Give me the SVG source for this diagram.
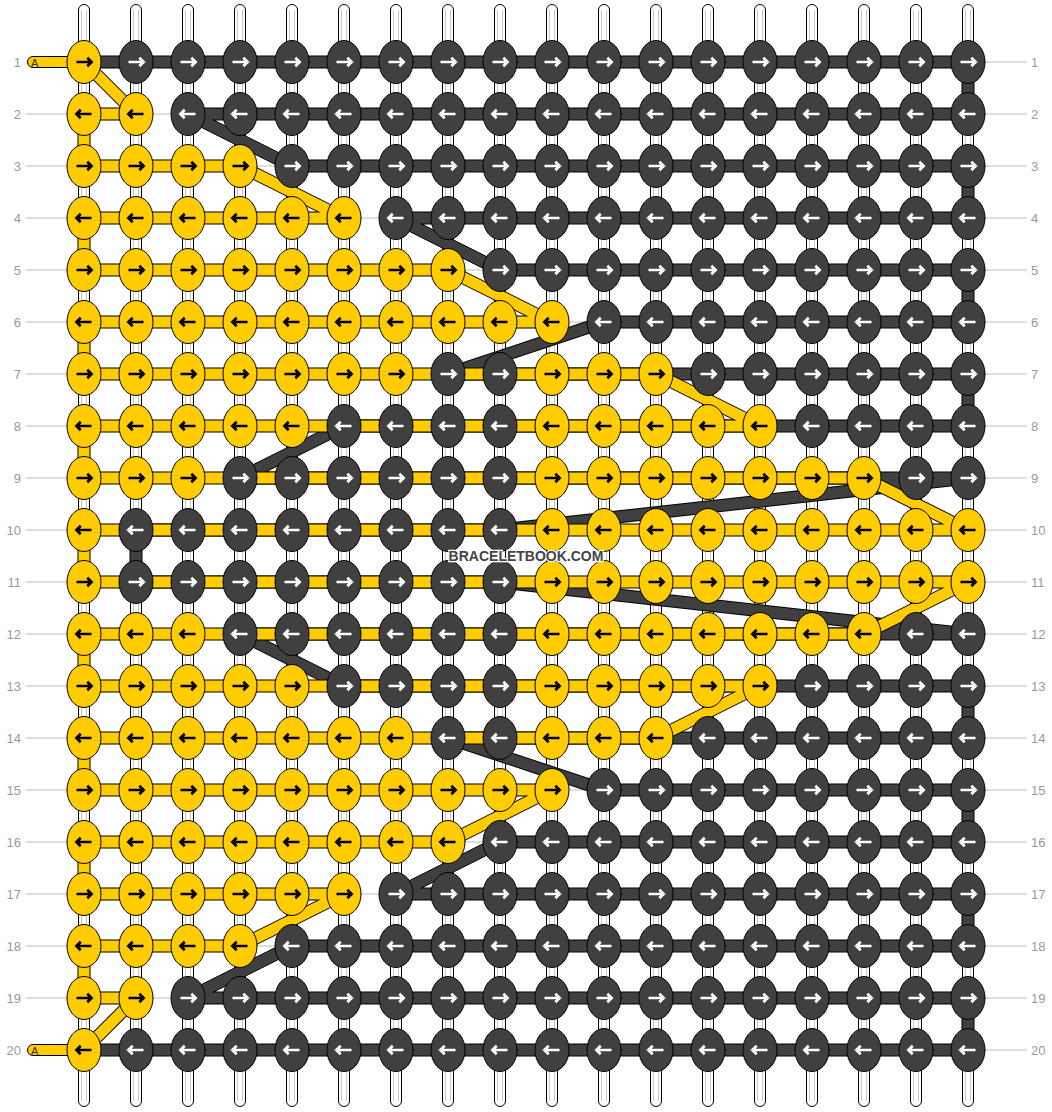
<svg xmlns="http://www.w3.org/2000/svg" xmlns:xlink="http://www.w3.org/1999/xlink" width="1052" height="1112" viewBox="0 0 1052 1112">
<style>
.str{fill:#fff;stroke:#000;stroke-width:1}
.sl{stroke:#c8c8c8;stroke-width:1}
.gl{stroke:#bdbdbd;stroke-width:1}
.lab{font-family:"Liberation Sans",Arial,sans-serif;font-size:13px;fill:#999}
.lab.l{text-anchor:end}
.ol{fill:none;stroke:#000;stroke-width:13;stroke-linejoin:round}
.td{fill:none;stroke:#404040;stroke-width:11;stroke-linejoin:round}
.ty{fill:none;stroke:#ffcc00;stroke-width:11;stroke-linejoin:round}
.ky{fill:#ffcc00;stroke:#000;stroke-width:1}
.kd{fill:#404040;stroke:#000;stroke-width:1}
.arr{fill:none;stroke-width:2.7;stroke-linejoin:miter}
.tag{fill:#ffcc00;stroke:#000;stroke-width:1}
.tagt{font-family:"Liberation Sans",Arial,sans-serif;font-size:11px;fill:#333}
.wm{font-family:"Liberation Sans",Arial,sans-serif;font-size:14px;font-weight:bold;fill:#444;stroke:#fff;stroke-width:2.5;paint-order:stroke;text-anchor:middle}
</style>
<defs>
<path id="pr" class="arr" d="M-7.5,0 H7.5 M3.3,-4.3 L7.6,0 L3.3,4.3"/>
<path id="pl" class="arr" d="M7.5,0 H-7.5 M-3.3,-4.3 L-7.6,0 L-3.3,4.3"/>
<g id="yr"><ellipse class="ky" rx="17" ry="21.5"/><use href="#pr" stroke="#000"/></g>
<g id="yl"><ellipse class="ky" rx="17" ry="21.5"/><use href="#pl" stroke="#000"/></g>
<g id="dr"><ellipse class="kd" rx="17" ry="21.5"/><use href="#pr" stroke="#fff"/></g>
<g id="dl"><ellipse class="kd" rx="17" ry="21.5"/><use href="#pl" stroke="#fff"/></g>
<g id="s"><rect class="str" x="-5.5" y="4.5" width="11" height="1102" rx="5.5"/><line class="sl" x1="-2.5" y1="10" x2="-2.5" y2="1101"/><line class="sl" x1="2.5" y1="10" x2="2.5" y2="1101"/></g>
</defs>
<rect width="1052" height="1112" fill="#fff"/>
<g id="guides">
<line class="gl" x1="26" y1="62" x2="1027" y2="62"/><line class="gl" x1="26" y1="114" x2="1027" y2="114"/><line class="gl" x1="26" y1="166" x2="1027" y2="166"/><line class="gl" x1="26" y1="218" x2="1027" y2="218"/><line class="gl" x1="26" y1="270" x2="1027" y2="270"/><line class="gl" x1="26" y1="322" x2="1027" y2="322"/><line class="gl" x1="26" y1="374" x2="1027" y2="374"/><line class="gl" x1="26" y1="426" x2="1027" y2="426"/><line class="gl" x1="26" y1="478" x2="1027" y2="478"/><line class="gl" x1="26" y1="530" x2="1027" y2="530"/><line class="gl" x1="26" y1="582" x2="1027" y2="582"/><line class="gl" x1="26" y1="634" x2="1027" y2="634"/><line class="gl" x1="26" y1="686" x2="1027" y2="686"/><line class="gl" x1="26" y1="738" x2="1027" y2="738"/><line class="gl" x1="26" y1="790" x2="1027" y2="790"/><line class="gl" x1="26" y1="842" x2="1027" y2="842"/><line class="gl" x1="26" y1="894" x2="1027" y2="894"/><line class="gl" x1="26" y1="946" x2="1027" y2="946"/><line class="gl" x1="26" y1="998" x2="1027" y2="998"/><line class="gl" x1="26" y1="1050" x2="1027" y2="1050"/>
</g>
<g id="labels">
<text class="lab l" x="21" y="66.5">1</text><text class="lab l" x="21" y="118.5">2</text><text class="lab l" x="21" y="170.5">3</text><text class="lab l" x="21" y="222.5">4</text><text class="lab l" x="21" y="274.5">5</text><text class="lab l" x="21" y="326.5">6</text><text class="lab l" x="21" y="378.5">7</text><text class="lab l" x="21" y="430.5">8</text><text class="lab l" x="21" y="482.5">9</text><text class="lab l" x="21" y="534.5">10</text><text class="lab l" x="21" y="586.5">11</text><text class="lab l" x="21" y="638.5">12</text><text class="lab l" x="21" y="690.5">13</text><text class="lab l" x="21" y="742.5">14</text><text class="lab l" x="21" y="794.5">15</text><text class="lab l" x="21" y="846.5">16</text><text class="lab l" x="21" y="898.5">17</text><text class="lab l" x="21" y="950.5">18</text><text class="lab l" x="21" y="1002.5">19</text><text class="lab l" x="21" y="1054.5">20</text>
<text class="lab" x="1031" y="66.5">1</text><text class="lab" x="1031" y="118.5">2</text><text class="lab" x="1031" y="170.5">3</text><text class="lab" x="1031" y="222.5">4</text><text class="lab" x="1031" y="274.5">5</text><text class="lab" x="1031" y="326.5">6</text><text class="lab" x="1031" y="378.5">7</text><text class="lab" x="1031" y="430.5">8</text><text class="lab" x="1031" y="482.5">9</text><text class="lab" x="1031" y="534.5">10</text><text class="lab" x="1031" y="586.5">11</text><text class="lab" x="1031" y="638.5">12</text><text class="lab" x="1031" y="690.5">13</text><text class="lab" x="1031" y="742.5">14</text><text class="lab" x="1031" y="794.5">15</text><text class="lab" x="1031" y="846.5">16</text><text class="lab" x="1031" y="898.5">17</text><text class="lab" x="1031" y="950.5">18</text><text class="lab" x="1031" y="1002.5">19</text><text class="lab" x="1031" y="1054.5">20</text>
</g>
<g id="strings">
<use href="#s" x="84"/><use href="#s" x="136"/><use href="#s" x="188"/><use href="#s" x="240"/><use href="#s" x="292"/><use href="#s" x="344"/><use href="#s" x="396"/><use href="#s" x="448"/><use href="#s" x="500"/><use href="#s" x="552"/><use href="#s" x="604"/><use href="#s" x="656"/><use href="#s" x="708"/><use href="#s" x="760"/><use href="#s" x="812"/><use href="#s" x="864"/><use href="#s" x="916"/><use href="#s" x="968"/>
</g>
<g id="connectors">
<polyline id="dark-o" class="ol" points="84,62 968,62 968,114 188,114 292,166 968,166 968,218 396,218 500,270 968,270 968,322 604,322 448,374 968,374 968,426 344,426 240,478 968,478 500,530 136,530 136,582 500,582 968,634 240,634 344,686 968,686 968,738 448,738 604,790 968,790 968,842 500,842 396,894 968,894 968,946 292,946 188,998 968,998 968,1050 84,1050"/>
<polyline id="dark" class="td" points="84,62 968,62 968,114 188,114 292,166 968,166 968,218 396,218 500,270 968,270 968,322 604,322 448,374 968,374 968,426 344,426 240,478 968,478 500,530 136,530 136,582 500,582 968,634 240,634 344,686 968,686 968,738 448,738 604,790 968,790 968,842 500,842 396,894 968,894 968,946 292,946 188,998 968,998 968,1050 84,1050"/>
<polyline id="yellow-o" class="ol" points="84,62 136,114 84,114 84,166 240,166 344,218 84,218 84,270 448,270 552,322 84,322 84,374 656,374 760,426 84,426 84,478 864,478 968,530 84,530 84,582 968,582 864,634 84,634 84,686 760,686 656,738 84,738 84,790 552,790 448,842 84,842 84,894 344,894 240,946 84,946 84,998 136,998 84,1050"/>
<polyline id="yellow" class="ty" points="84,62 136,114 84,114 84,166 240,166 344,218 84,218 84,270 448,270 552,322 84,322 84,374 656,374 760,426 84,426 84,478 864,478 968,530 84,530 84,582 968,582 864,634 84,634 84,686 760,686 656,738 84,738 84,790 552,790 448,842 84,842 84,894 344,894 240,946 84,946 84,998 136,998 84,1050"/>
<g id="tagA1"><rect class="tag" x="27.5" y="56.5" width="60" height="11" rx="5.5"/><text class="tagt" x="31" y="66.5">A</text></g>
<g id="tagA20"><rect class="tag" x="27.5" y="1044.5" width="60" height="11" rx="5.5"/><text class="tagt" x="31" y="1054.5">A</text></g>
</g>
<g id="nodes">
<g id="row1" transform="translate(0,62)">
<g id="k1-1"><use href="#yr" x="84"/></g><g id="k1-2"><use href="#dr" x="136"/></g><g id="k1-3"><use href="#dr" x="188"/></g><g id="k1-4"><use href="#dr" x="240"/></g><g id="k1-5"><use href="#dr" x="292"/></g><g id="k1-6"><use href="#dr" x="344"/></g><g id="k1-7"><use href="#dr" x="396"/></g><g id="k1-8"><use href="#dr" x="448"/></g><g id="k1-9"><use href="#dr" x="500"/></g><g id="k1-10"><use href="#dr" x="552"/></g><g id="k1-11"><use href="#dr" x="604"/></g><g id="k1-12"><use href="#dr" x="656"/></g><g id="k1-13"><use href="#dr" x="708"/></g><g id="k1-14"><use href="#dr" x="760"/></g><g id="k1-15"><use href="#dr" x="812"/></g><g id="k1-16"><use href="#dr" x="864"/></g><g id="k1-17"><use href="#dr" x="916"/></g><g id="k1-18"><use href="#dr" x="968"/></g>
</g>
<g id="row2" transform="translate(0,114)">
<g id="k2-1"><use href="#yl" x="84"/></g><g id="k2-2"><use href="#yl" x="136"/></g><g id="k2-3"><use href="#dl" x="188"/></g><g id="k2-4"><use href="#dl" x="240"/></g><g id="k2-5"><use href="#dl" x="292"/></g><g id="k2-6"><use href="#dl" x="344"/></g><g id="k2-7"><use href="#dl" x="396"/></g><g id="k2-8"><use href="#dl" x="448"/></g><g id="k2-9"><use href="#dl" x="500"/></g><g id="k2-10"><use href="#dl" x="552"/></g><g id="k2-11"><use href="#dl" x="604"/></g><g id="k2-12"><use href="#dl" x="656"/></g><g id="k2-13"><use href="#dl" x="708"/></g><g id="k2-14"><use href="#dl" x="760"/></g><g id="k2-15"><use href="#dl" x="812"/></g><g id="k2-16"><use href="#dl" x="864"/></g><g id="k2-17"><use href="#dl" x="916"/></g><g id="k2-18"><use href="#dl" x="968"/></g>
</g>
<g id="row3" transform="translate(0,166)">
<g id="k3-1"><use href="#yr" x="84"/></g><g id="k3-2"><use href="#yr" x="136"/></g><g id="k3-3"><use href="#yr" x="188"/></g><g id="k3-4"><use href="#yr" x="240"/></g><g id="k3-5"><use href="#dr" x="292"/></g><g id="k3-6"><use href="#dr" x="344"/></g><g id="k3-7"><use href="#dr" x="396"/></g><g id="k3-8"><use href="#dr" x="448"/></g><g id="k3-9"><use href="#dr" x="500"/></g><g id="k3-10"><use href="#dr" x="552"/></g><g id="k3-11"><use href="#dr" x="604"/></g><g id="k3-12"><use href="#dr" x="656"/></g><g id="k3-13"><use href="#dr" x="708"/></g><g id="k3-14"><use href="#dr" x="760"/></g><g id="k3-15"><use href="#dr" x="812"/></g><g id="k3-16"><use href="#dr" x="864"/></g><g id="k3-17"><use href="#dr" x="916"/></g><g id="k3-18"><use href="#dr" x="968"/></g>
</g>
<g id="row4" transform="translate(0,218)">
<g id="k4-1"><use href="#yl" x="84"/></g><g id="k4-2"><use href="#yl" x="136"/></g><g id="k4-3"><use href="#yl" x="188"/></g><g id="k4-4"><use href="#yl" x="240"/></g><g id="k4-5"><use href="#yl" x="292"/></g><g id="k4-6"><use href="#yl" x="344"/></g><g id="k4-7"><use href="#dl" x="396"/></g><g id="k4-8"><use href="#dl" x="448"/></g><g id="k4-9"><use href="#dl" x="500"/></g><g id="k4-10"><use href="#dl" x="552"/></g><g id="k4-11"><use href="#dl" x="604"/></g><g id="k4-12"><use href="#dl" x="656"/></g><g id="k4-13"><use href="#dl" x="708"/></g><g id="k4-14"><use href="#dl" x="760"/></g><g id="k4-15"><use href="#dl" x="812"/></g><g id="k4-16"><use href="#dl" x="864"/></g><g id="k4-17"><use href="#dl" x="916"/></g><g id="k4-18"><use href="#dl" x="968"/></g>
</g>
<g id="row5" transform="translate(0,270)">
<g id="k5-1"><use href="#yr" x="84"/></g><g id="k5-2"><use href="#yr" x="136"/></g><g id="k5-3"><use href="#yr" x="188"/></g><g id="k5-4"><use href="#yr" x="240"/></g><g id="k5-5"><use href="#yr" x="292"/></g><g id="k5-6"><use href="#yr" x="344"/></g><g id="k5-7"><use href="#yr" x="396"/></g><g id="k5-8"><use href="#yr" x="448"/></g><g id="k5-9"><use href="#dr" x="500"/></g><g id="k5-10"><use href="#dr" x="552"/></g><g id="k5-11"><use href="#dr" x="604"/></g><g id="k5-12"><use href="#dr" x="656"/></g><g id="k5-13"><use href="#dr" x="708"/></g><g id="k5-14"><use href="#dr" x="760"/></g><g id="k5-15"><use href="#dr" x="812"/></g><g id="k5-16"><use href="#dr" x="864"/></g><g id="k5-17"><use href="#dr" x="916"/></g><g id="k5-18"><use href="#dr" x="968"/></g>
</g>
<g id="row6" transform="translate(0,322)">
<g id="k6-1"><use href="#yl" x="84"/></g><g id="k6-2"><use href="#yl" x="136"/></g><g id="k6-3"><use href="#yl" x="188"/></g><g id="k6-4"><use href="#yl" x="240"/></g><g id="k6-5"><use href="#yl" x="292"/></g><g id="k6-6"><use href="#yl" x="344"/></g><g id="k6-7"><use href="#yl" x="396"/></g><g id="k6-8"><use href="#yl" x="448"/></g><g id="k6-9"><use href="#yl" x="500"/></g><g id="k6-10"><use href="#yl" x="552"/></g><g id="k6-11"><use href="#dl" x="604"/></g><g id="k6-12"><use href="#dl" x="656"/></g><g id="k6-13"><use href="#dl" x="708"/></g><g id="k6-14"><use href="#dl" x="760"/></g><g id="k6-15"><use href="#dl" x="812"/></g><g id="k6-16"><use href="#dl" x="864"/></g><g id="k6-17"><use href="#dl" x="916"/></g><g id="k6-18"><use href="#dl" x="968"/></g>
</g>
<g id="row7" transform="translate(0,374)">
<g id="k7-1"><use href="#yr" x="84"/></g><g id="k7-2"><use href="#yr" x="136"/></g><g id="k7-3"><use href="#yr" x="188"/></g><g id="k7-4"><use href="#yr" x="240"/></g><g id="k7-5"><use href="#yr" x="292"/></g><g id="k7-6"><use href="#yr" x="344"/></g><g id="k7-7"><use href="#yr" x="396"/></g><g id="k7-8"><use href="#dr" x="448"/></g><g id="k7-9"><use href="#dr" x="500"/></g><g id="k7-10"><use href="#yr" x="552"/></g><g id="k7-11"><use href="#yr" x="604"/></g><g id="k7-12"><use href="#yr" x="656"/></g><g id="k7-13"><use href="#dr" x="708"/></g><g id="k7-14"><use href="#dr" x="760"/></g><g id="k7-15"><use href="#dr" x="812"/></g><g id="k7-16"><use href="#dr" x="864"/></g><g id="k7-17"><use href="#dr" x="916"/></g><g id="k7-18"><use href="#dr" x="968"/></g>
</g>
<g id="row8" transform="translate(0,426)">
<g id="k8-1"><use href="#yl" x="84"/></g><g id="k8-2"><use href="#yl" x="136"/></g><g id="k8-3"><use href="#yl" x="188"/></g><g id="k8-4"><use href="#yl" x="240"/></g><g id="k8-5"><use href="#yl" x="292"/></g><g id="k8-6"><use href="#dl" x="344"/></g><g id="k8-7"><use href="#dl" x="396"/></g><g id="k8-8"><use href="#dl" x="448"/></g><g id="k8-9"><use href="#dl" x="500"/></g><g id="k8-10"><use href="#yl" x="552"/></g><g id="k8-11"><use href="#yl" x="604"/></g><g id="k8-12"><use href="#yl" x="656"/></g><g id="k8-13"><use href="#yl" x="708"/></g><g id="k8-14"><use href="#yl" x="760"/></g><g id="k8-15"><use href="#dl" x="812"/></g><g id="k8-16"><use href="#dl" x="864"/></g><g id="k8-17"><use href="#dl" x="916"/></g><g id="k8-18"><use href="#dl" x="968"/></g>
</g>
<g id="row9" transform="translate(0,478)">
<g id="k9-1"><use href="#yr" x="84"/></g><g id="k9-2"><use href="#yr" x="136"/></g><g id="k9-3"><use href="#yr" x="188"/></g><g id="k9-4"><use href="#dr" x="240"/></g><g id="k9-5"><use href="#dr" x="292"/></g><g id="k9-6"><use href="#dr" x="344"/></g><g id="k9-7"><use href="#dr" x="396"/></g><g id="k9-8"><use href="#dr" x="448"/></g><g id="k9-9"><use href="#dr" x="500"/></g><g id="k9-10"><use href="#yr" x="552"/></g><g id="k9-11"><use href="#yr" x="604"/></g><g id="k9-12"><use href="#yr" x="656"/></g><g id="k9-13"><use href="#yr" x="708"/></g><g id="k9-14"><use href="#yr" x="760"/></g><g id="k9-15"><use href="#yr" x="812"/></g><g id="k9-16"><use href="#yr" x="864"/></g><g id="k9-17"><use href="#dr" x="916"/></g><g id="k9-18"><use href="#dr" x="968"/></g>
</g>
<g id="row10" transform="translate(0,530)">
<g id="k10-1"><use href="#yl" x="84"/></g><g id="k10-2"><use href="#dl" x="136"/></g><g id="k10-3"><use href="#dl" x="188"/></g><g id="k10-4"><use href="#dl" x="240"/></g><g id="k10-5"><use href="#dl" x="292"/></g><g id="k10-6"><use href="#dl" x="344"/></g><g id="k10-7"><use href="#dl" x="396"/></g><g id="k10-8"><use href="#dl" x="448"/></g><g id="k10-9"><use href="#dl" x="500"/></g><g id="k10-10"><use href="#yl" x="552"/></g><g id="k10-11"><use href="#yl" x="604"/></g><g id="k10-12"><use href="#yl" x="656"/></g><g id="k10-13"><use href="#yl" x="708"/></g><g id="k10-14"><use href="#yl" x="760"/></g><g id="k10-15"><use href="#yl" x="812"/></g><g id="k10-16"><use href="#yl" x="864"/></g><g id="k10-17"><use href="#yl" x="916"/></g><g id="k10-18"><use href="#yl" x="968"/></g>
</g>
<g id="row11" transform="translate(0,582)">
<g id="k11-1"><use href="#yr" x="84"/></g><g id="k11-2"><use href="#dr" x="136"/></g><g id="k11-3"><use href="#dr" x="188"/></g><g id="k11-4"><use href="#dr" x="240"/></g><g id="k11-5"><use href="#dr" x="292"/></g><g id="k11-6"><use href="#dr" x="344"/></g><g id="k11-7"><use href="#dr" x="396"/></g><g id="k11-8"><use href="#dr" x="448"/></g><g id="k11-9"><use href="#dr" x="500"/></g><g id="k11-10"><use href="#yr" x="552"/></g><g id="k11-11"><use href="#yr" x="604"/></g><g id="k11-12"><use href="#yr" x="656"/></g><g id="k11-13"><use href="#yr" x="708"/></g><g id="k11-14"><use href="#yr" x="760"/></g><g id="k11-15"><use href="#yr" x="812"/></g><g id="k11-16"><use href="#yr" x="864"/></g><g id="k11-17"><use href="#yr" x="916"/></g><g id="k11-18"><use href="#yr" x="968"/></g>
</g>
<g id="row12" transform="translate(0,634)">
<g id="k12-1"><use href="#yl" x="84"/></g><g id="k12-2"><use href="#yl" x="136"/></g><g id="k12-3"><use href="#yl" x="188"/></g><g id="k12-4"><use href="#dl" x="240"/></g><g id="k12-5"><use href="#dl" x="292"/></g><g id="k12-6"><use href="#dl" x="344"/></g><g id="k12-7"><use href="#dl" x="396"/></g><g id="k12-8"><use href="#dl" x="448"/></g><g id="k12-9"><use href="#dl" x="500"/></g><g id="k12-10"><use href="#yl" x="552"/></g><g id="k12-11"><use href="#yl" x="604"/></g><g id="k12-12"><use href="#yl" x="656"/></g><g id="k12-13"><use href="#yl" x="708"/></g><g id="k12-14"><use href="#yl" x="760"/></g><g id="k12-15"><use href="#yl" x="812"/></g><g id="k12-16"><use href="#yl" x="864"/></g><g id="k12-17"><use href="#dl" x="916"/></g><g id="k12-18"><use href="#dl" x="968"/></g>
</g>
<g id="row13" transform="translate(0,686)">
<g id="k13-1"><use href="#yr" x="84"/></g><g id="k13-2"><use href="#yr" x="136"/></g><g id="k13-3"><use href="#yr" x="188"/></g><g id="k13-4"><use href="#yr" x="240"/></g><g id="k13-5"><use href="#yr" x="292"/></g><g id="k13-6"><use href="#dr" x="344"/></g><g id="k13-7"><use href="#dr" x="396"/></g><g id="k13-8"><use href="#dr" x="448"/></g><g id="k13-9"><use href="#dr" x="500"/></g><g id="k13-10"><use href="#yr" x="552"/></g><g id="k13-11"><use href="#yr" x="604"/></g><g id="k13-12"><use href="#yr" x="656"/></g><g id="k13-13"><use href="#yr" x="708"/></g><g id="k13-14"><use href="#yr" x="760"/></g><g id="k13-15"><use href="#dr" x="812"/></g><g id="k13-16"><use href="#dr" x="864"/></g><g id="k13-17"><use href="#dr" x="916"/></g><g id="k13-18"><use href="#dr" x="968"/></g>
</g>
<g id="row14" transform="translate(0,738)">
<g id="k14-1"><use href="#yl" x="84"/></g><g id="k14-2"><use href="#yl" x="136"/></g><g id="k14-3"><use href="#yl" x="188"/></g><g id="k14-4"><use href="#yl" x="240"/></g><g id="k14-5"><use href="#yl" x="292"/></g><g id="k14-6"><use href="#yl" x="344"/></g><g id="k14-7"><use href="#yl" x="396"/></g><g id="k14-8"><use href="#dl" x="448"/></g><g id="k14-9"><use href="#dl" x="500"/></g><g id="k14-10"><use href="#yl" x="552"/></g><g id="k14-11"><use href="#yl" x="604"/></g><g id="k14-12"><use href="#yl" x="656"/></g><g id="k14-13"><use href="#dl" x="708"/></g><g id="k14-14"><use href="#dl" x="760"/></g><g id="k14-15"><use href="#dl" x="812"/></g><g id="k14-16"><use href="#dl" x="864"/></g><g id="k14-17"><use href="#dl" x="916"/></g><g id="k14-18"><use href="#dl" x="968"/></g>
</g>
<g id="row15" transform="translate(0,790)">
<g id="k15-1"><use href="#yr" x="84"/></g><g id="k15-2"><use href="#yr" x="136"/></g><g id="k15-3"><use href="#yr" x="188"/></g><g id="k15-4"><use href="#yr" x="240"/></g><g id="k15-5"><use href="#yr" x="292"/></g><g id="k15-6"><use href="#yr" x="344"/></g><g id="k15-7"><use href="#yr" x="396"/></g><g id="k15-8"><use href="#yr" x="448"/></g><g id="k15-9"><use href="#yr" x="500"/></g><g id="k15-10"><use href="#yr" x="552"/></g><g id="k15-11"><use href="#dr" x="604"/></g><g id="k15-12"><use href="#dr" x="656"/></g><g id="k15-13"><use href="#dr" x="708"/></g><g id="k15-14"><use href="#dr" x="760"/></g><g id="k15-15"><use href="#dr" x="812"/></g><g id="k15-16"><use href="#dr" x="864"/></g><g id="k15-17"><use href="#dr" x="916"/></g><g id="k15-18"><use href="#dr" x="968"/></g>
</g>
<g id="row16" transform="translate(0,842)">
<g id="k16-1"><use href="#yl" x="84"/></g><g id="k16-2"><use href="#yl" x="136"/></g><g id="k16-3"><use href="#yl" x="188"/></g><g id="k16-4"><use href="#yl" x="240"/></g><g id="k16-5"><use href="#yl" x="292"/></g><g id="k16-6"><use href="#yl" x="344"/></g><g id="k16-7"><use href="#yl" x="396"/></g><g id="k16-8"><use href="#yl" x="448"/></g><g id="k16-9"><use href="#dl" x="500"/></g><g id="k16-10"><use href="#dl" x="552"/></g><g id="k16-11"><use href="#dl" x="604"/></g><g id="k16-12"><use href="#dl" x="656"/></g><g id="k16-13"><use href="#dl" x="708"/></g><g id="k16-14"><use href="#dl" x="760"/></g><g id="k16-15"><use href="#dl" x="812"/></g><g id="k16-16"><use href="#dl" x="864"/></g><g id="k16-17"><use href="#dl" x="916"/></g><g id="k16-18"><use href="#dl" x="968"/></g>
</g>
<g id="row17" transform="translate(0,894)">
<g id="k17-1"><use href="#yr" x="84"/></g><g id="k17-2"><use href="#yr" x="136"/></g><g id="k17-3"><use href="#yr" x="188"/></g><g id="k17-4"><use href="#yr" x="240"/></g><g id="k17-5"><use href="#yr" x="292"/></g><g id="k17-6"><use href="#yr" x="344"/></g><g id="k17-7"><use href="#dr" x="396"/></g><g id="k17-8"><use href="#dr" x="448"/></g><g id="k17-9"><use href="#dr" x="500"/></g><g id="k17-10"><use href="#dr" x="552"/></g><g id="k17-11"><use href="#dr" x="604"/></g><g id="k17-12"><use href="#dr" x="656"/></g><g id="k17-13"><use href="#dr" x="708"/></g><g id="k17-14"><use href="#dr" x="760"/></g><g id="k17-15"><use href="#dr" x="812"/></g><g id="k17-16"><use href="#dr" x="864"/></g><g id="k17-17"><use href="#dr" x="916"/></g><g id="k17-18"><use href="#dr" x="968"/></g>
</g>
<g id="row18" transform="translate(0,946)">
<g id="k18-1"><use href="#yl" x="84"/></g><g id="k18-2"><use href="#yl" x="136"/></g><g id="k18-3"><use href="#yl" x="188"/></g><g id="k18-4"><use href="#yl" x="240"/></g><g id="k18-5"><use href="#dl" x="292"/></g><g id="k18-6"><use href="#dl" x="344"/></g><g id="k18-7"><use href="#dl" x="396"/></g><g id="k18-8"><use href="#dl" x="448"/></g><g id="k18-9"><use href="#dl" x="500"/></g><g id="k18-10"><use href="#dl" x="552"/></g><g id="k18-11"><use href="#dl" x="604"/></g><g id="k18-12"><use href="#dl" x="656"/></g><g id="k18-13"><use href="#dl" x="708"/></g><g id="k18-14"><use href="#dl" x="760"/></g><g id="k18-15"><use href="#dl" x="812"/></g><g id="k18-16"><use href="#dl" x="864"/></g><g id="k18-17"><use href="#dl" x="916"/></g><g id="k18-18"><use href="#dl" x="968"/></g>
</g>
<g id="row19" transform="translate(0,998)">
<g id="k19-1"><use href="#yr" x="84"/></g><g id="k19-2"><use href="#yr" x="136"/></g><g id="k19-3"><use href="#dr" x="188"/></g><g id="k19-4"><use href="#dr" x="240"/></g><g id="k19-5"><use href="#dr" x="292"/></g><g id="k19-6"><use href="#dr" x="344"/></g><g id="k19-7"><use href="#dr" x="396"/></g><g id="k19-8"><use href="#dr" x="448"/></g><g id="k19-9"><use href="#dr" x="500"/></g><g id="k19-10"><use href="#dr" x="552"/></g><g id="k19-11"><use href="#dr" x="604"/></g><g id="k19-12"><use href="#dr" x="656"/></g><g id="k19-13"><use href="#dr" x="708"/></g><g id="k19-14"><use href="#dr" x="760"/></g><g id="k19-15"><use href="#dr" x="812"/></g><g id="k19-16"><use href="#dr" x="864"/></g><g id="k19-17"><use href="#dr" x="916"/></g><g id="k19-18"><use href="#dr" x="968"/></g>
</g>
<g id="row20" transform="translate(0,1050)">
<g id="k20-1"><use href="#yl" x="84"/></g><g id="k20-2"><use href="#dl" x="136"/></g><g id="k20-3"><use href="#dl" x="188"/></g><g id="k20-4"><use href="#dl" x="240"/></g><g id="k20-5"><use href="#dl" x="292"/></g><g id="k20-6"><use href="#dl" x="344"/></g><g id="k20-7"><use href="#dl" x="396"/></g><g id="k20-8"><use href="#dl" x="448"/></g><g id="k20-9"><use href="#dl" x="500"/></g><g id="k20-10"><use href="#dl" x="552"/></g><g id="k20-11"><use href="#dl" x="604"/></g><g id="k20-12"><use href="#dl" x="656"/></g><g id="k20-13"><use href="#dl" x="708"/></g><g id="k20-14"><use href="#dl" x="760"/></g><g id="k20-15"><use href="#dl" x="812"/></g><g id="k20-16"><use href="#dl" x="864"/></g><g id="k20-17"><use href="#dl" x="916"/></g><g id="k20-18"><use href="#dl" x="968"/></g>
</g>
</g>
<text id="watermark" class="wm" x="526" y="561">BRACELETBOOK.COM</text>
</svg>
